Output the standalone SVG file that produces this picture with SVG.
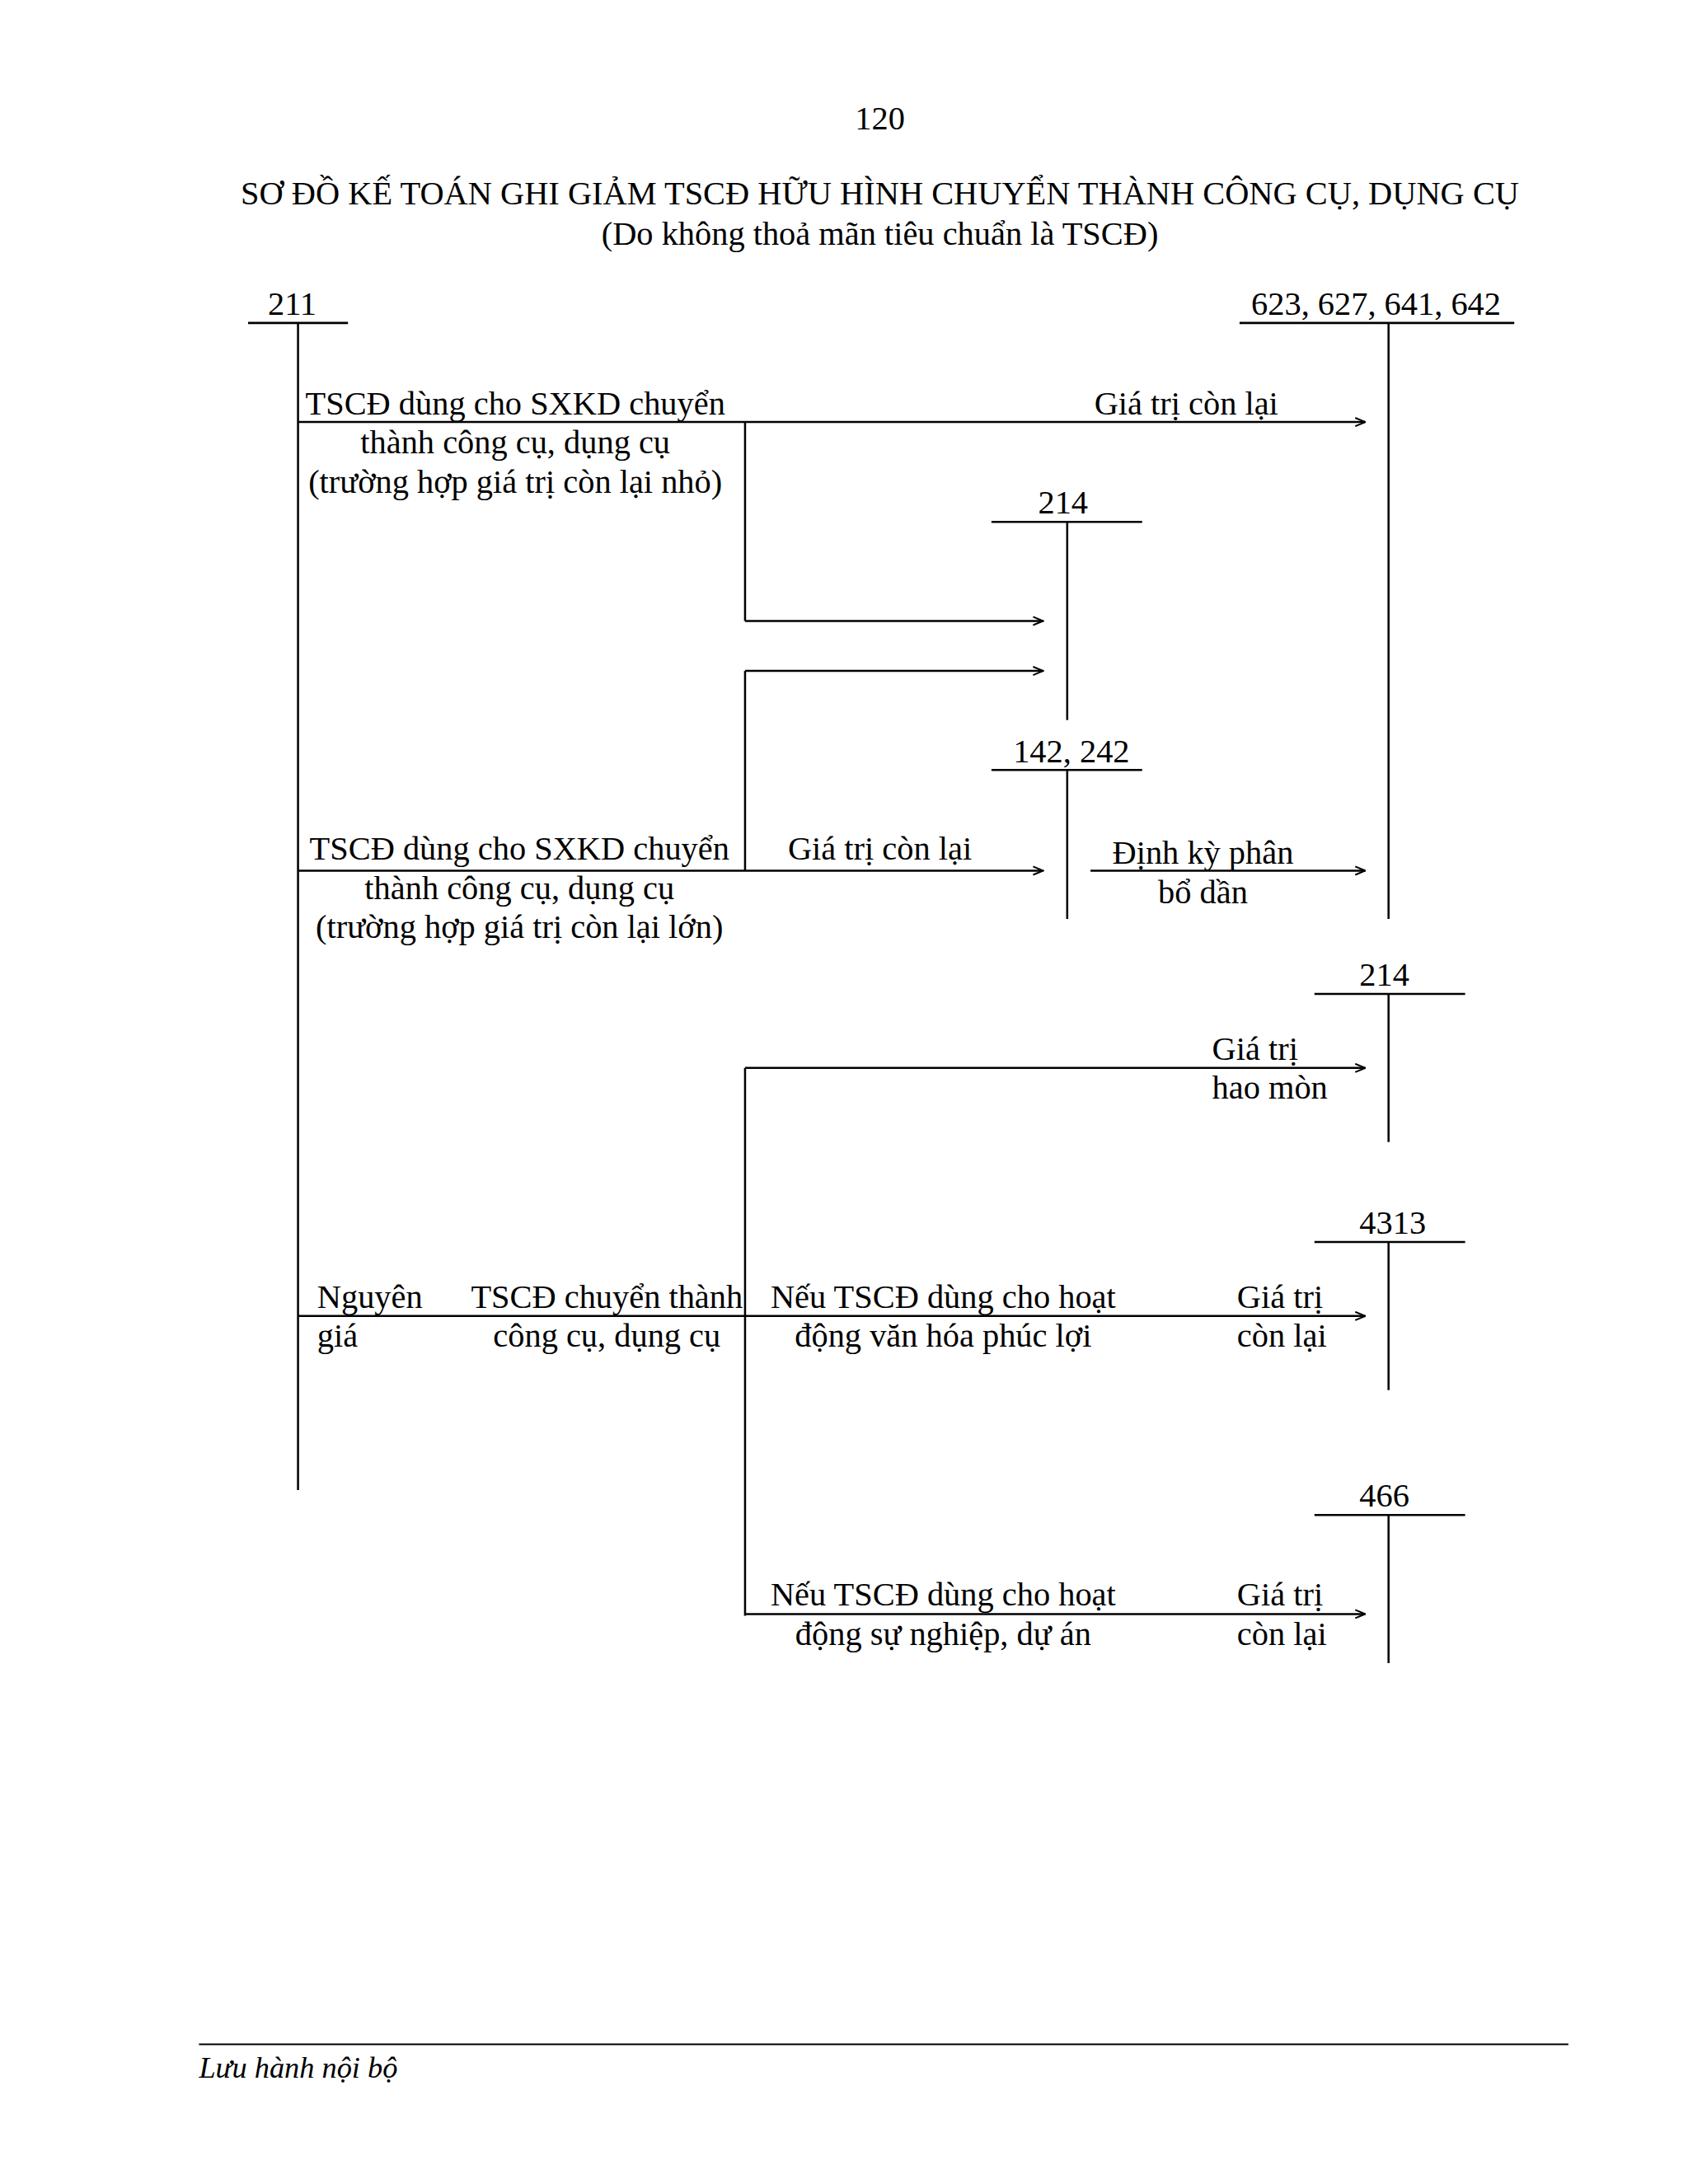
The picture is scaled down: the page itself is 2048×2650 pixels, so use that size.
<svg xmlns="http://www.w3.org/2000/svg" width="2048" height="2650" viewBox="0 0 2048 2650">
<style>
text{font-family:"Liberation Serif","Times New Roman",serif;font-size:40px;fill:#000}
.c{text-anchor:middle}
line{stroke:#000;stroke-width:2.5}
</style>
<defs><marker id="a" markerWidth="14" markerHeight="12" refX="13" refY="6" orient="auto" markerUnits="userSpaceOnUse"><path d="M1,1 L13,6 L1,11" fill="none" stroke="#000" stroke-width="2"/></marker></defs>
<rect width="2048" height="2650" fill="#fff"/>
<g transform="scale(1.01)">
<text class="c" x="1057" y="155">120</text>
<text class="c" x="1057" y="246">SƠ ĐỒ KẾ TOÁN GHI GIẢM TSCĐ HỮU HÌNH CHUYỂN THÀNH CÔNG CỤ, DỤNG CỤ</text>
<text class="c" x="1057" y="294">(Do không thoả mãn tiêu chuẩn là TSCĐ)</text>
<g id="acc211"><text class="c" x="351" y="378">211</text><line x1="298" y1="388" x2="418" y2="388"/><line x1="358" y1="388" x2="358" y2="1790"/></g>
<g id="acc623"><text class="c" x="1653" y="378">623, 627, 641, 642</text><line x1="1489" y1="388" x2="1819" y2="388"/><line x1="1668" y1="388" x2="1668" y2="1104"/></g>
<g id="acc214a"><text class="c" x="1277" y="617">214</text><line x1="1191" y1="627" x2="1372" y2="627"/><line x1="1282" y1="627" x2="1282" y2="865"/></g>
<g id="acc142"><text class="c" x="1287" y="916">142, 242</text><line x1="1191" y1="925" x2="1372" y2="925"/><line x1="1282" y1="925" x2="1282" y2="1104"/></g>
<g id="acc214b"><text class="c" x="1663" y="1184">214</text><line x1="1579" y1="1194" x2="1760" y2="1194"/><line x1="1668" y1="1194" x2="1668" y2="1372"/></g>
<g id="acc4313"><text class="c" x="1673" y="1482">4313</text><line x1="1579" y1="1492" x2="1760" y2="1492"/><line x1="1668" y1="1492" x2="1668" y2="1670"/></g>
<g id="acc466"><text class="c" x="1663" y="1810">466</text><line x1="1579" y1="1820" x2="1760" y2="1820"/><line x1="1668" y1="1820" x2="1668" y2="1998"/></g>
<g id="connectors">
<line x1="358" y1="507" x2="1640" y2="507" marker-end="url(#a)"/>
<line x1="895" y1="507" x2="895" y2="746"/>
<line x1="895" y1="746" x2="1253" y2="746" marker-end="url(#a)"/>
<line x1="895" y1="806" x2="1253" y2="806" marker-end="url(#a)"/>
<line x1="895" y1="806" x2="895" y2="1046"/>
<line x1="358" y1="1046" x2="1253" y2="1046" marker-end="url(#a)"/>
<line x1="1310" y1="1046" x2="1640" y2="1046" marker-end="url(#a)"/>
<line x1="895" y1="1283" x2="1640" y2="1283" marker-end="url(#a)"/>
<line x1="895" y1="1283" x2="895" y2="1941"/>
<line x1="358" y1="1581" x2="1640" y2="1581" marker-end="url(#a)"/>
<line x1="895" y1="1939" x2="1640" y2="1939" marker-end="url(#a)"/>
</g>
<g id="labels">
<text class="c" x="619" y="498">TSCĐ dùng cho SXKD chuyển</text>
<text class="c" x="619" y="545">thành công cụ, dụng cụ</text>
<text class="c" x="619" y="592">(trường hợp giá trị còn lại nhỏ)</text>
<text class="c" x="1425" y="498">Giá trị còn lại</text>
<text class="c" x="624" y="1033">TSCĐ dùng cho SXKD chuyển</text>
<text class="c" x="624" y="1080">thành công cụ, dụng cụ</text>
<text class="c" x="624" y="1127">(trường hợp giá trị còn lại lớn)</text>
<text class="c" x="1057" y="1033">Giá trị còn lại</text>
<text class="c" x="1445" y="1038">Định kỳ phân</text>
<text class="c" x="1445" y="1085">bổ dần</text>
<text x="1456" y="1273">Giá trị</text>
<text x="1456" y="1320">hao mòn</text>
<text x="381" y="1571">Nguyên</text>
<text x="381" y="1618">giá</text>
<text class="c" x="729" y="1571">TSCĐ chuyển thành</text>
<text class="c" x="729" y="1618">công cụ, dụng cụ</text>
<text class="c" x="1133" y="1571">Nếu TSCĐ dùng cho hoạt</text>
<text class="c" x="1133" y="1618">động văn hóa phúc lợi</text>
<text x="1486" y="1571">Giá trị</text>
<text x="1486" y="1618">còn lại</text>
<text class="c" x="1133" y="1929">Nếu TSCĐ dùng cho hoạt</text>
<text class="c" x="1133" y="1976">động sự nghiệp, dự án</text>
<text x="1486" y="1929">Giá trị</text>
<text x="1486" y="1976">còn lại</text>
</g>
<line x1="239" y1="2456" x2="1884" y2="2456" style="stroke-width:2"/>
<text x="239" y="2496" font-style="italic" style="font-size:36px">Lưu hành nội bộ</text>
</g>
</svg>
